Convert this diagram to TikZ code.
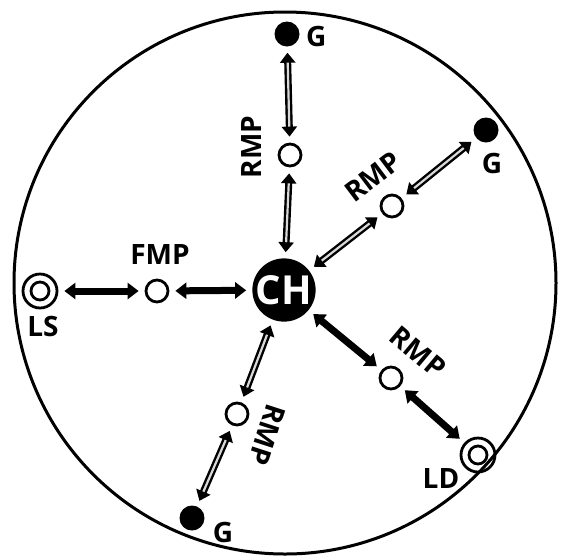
\documentclass[tikz,border=0pt]{standalone}
\usepackage{fontspec}
\setmainfont{Open Sans}
\usetikzlibrary{arrows.meta}
\begin{document}
\begin{tikzpicture}[x=1pt,y=-1pt,
  lbl/.style={font=\bfseries\fontsize{28}{28}\selectfont, inner sep=0pt},
  gnode/.style={circle, fill=black, minimum size=25pt, inner sep=0pt},
  mnode/.style={circle, draw, line width=2.8pt, minimum size=22pt, inner sep=0pt},
  lnode/.style={circle, draw, line width=2.8pt, minimum size=34pt, inner sep=0pt},
  holo/.style={line width=7pt, {Triangle[width=15pt,length=10pt]}-{Triangle[width=15pt,length=10pt]}, shorten <=6pt, shorten >=6pt},
  holi/.style={line width=2.2pt, draw=gray!30, shorten <=16pt, shorten >=16pt},
  solidarr/.style={line width=7pt, {Triangle[width=16pt,length=11pt]}-{Triangle[width=16pt,length=11pt]}, shorten <=6pt, shorten >=6pt}
]
\newcommand\holarrow[2]{\draw[holo] (#1) -- (#2); \draw[holi] (#1) -- (#2);}
\useasboundingbox (0,0) rectangle (568,558);
\draw[line width=3pt] (285,283) circle (271);

\node[circle, fill=black, minimum size=58pt, inner sep=0pt, text=white,
      font=\bfseries\fontsize{40}{40}\selectfont] (ch) at (284,290) {CH};

% top
\node[gnode] (gt) at (287,34) {};
\node[lbl, anchor=west] (gtl) at (306,36) {G};
\node[mnode] (rt) at (290,155) {};
\node[lbl, rotate=90] (rtl) at (252,147) {RMP};
\holarrow{gt}{rt}
\holarrow{rt}{ch}

% upper right
\node[gnode] (gur) at (486,130) {};
\node[lbl] (gurl) at (492,163) {G};
\node[mnode] (rur) at (392,206) {};
\node[lbl, rotate=37] (rurl) at (373,177) {RMP};
\holarrow{rur}{gur}
\holarrow{ch}{rur}

% left
\node[lnode] (ls) at (40,291) {};
\draw[line width=2.8pt] (ls.center) circle (9);
\node[lbl] (lsl) at (43,326) {LS};
\node[mnode] (fmp) at (157,291) {};
\node[lbl] (fmpl) at (160,254) {FMP};
\draw[solidarr] (ls) -- (fmp);
\draw[solidarr] (fmp) -- (ch);

% lower right
\node[mnode] (rlr) at (391,378) {};
\node[lbl, rotate=-40] (rlrl) at (418,352) {RMP};
\node[lnode] (ld) at (478,455) {};
\draw[line width=2.8pt] (ld.center) circle (9);
\node[lbl] (ldl) at (441,478) {LD};
\draw[solidarr] (ch) -- (rlr);
\draw[solidarr] (rlr) -- (ld);

% lower left
\node[mnode] (rll) at (237,414) {};
\node[lbl, rotate=-108] (rlll) at (267,435) {RMP};
\node[gnode] (gll) at (192,518) {};
\node[lbl] (glll) at (223,532) {G};
\holarrow{ch}{rll}
\holarrow{rll}{gll}
\end{tikzpicture}
\end{document}
